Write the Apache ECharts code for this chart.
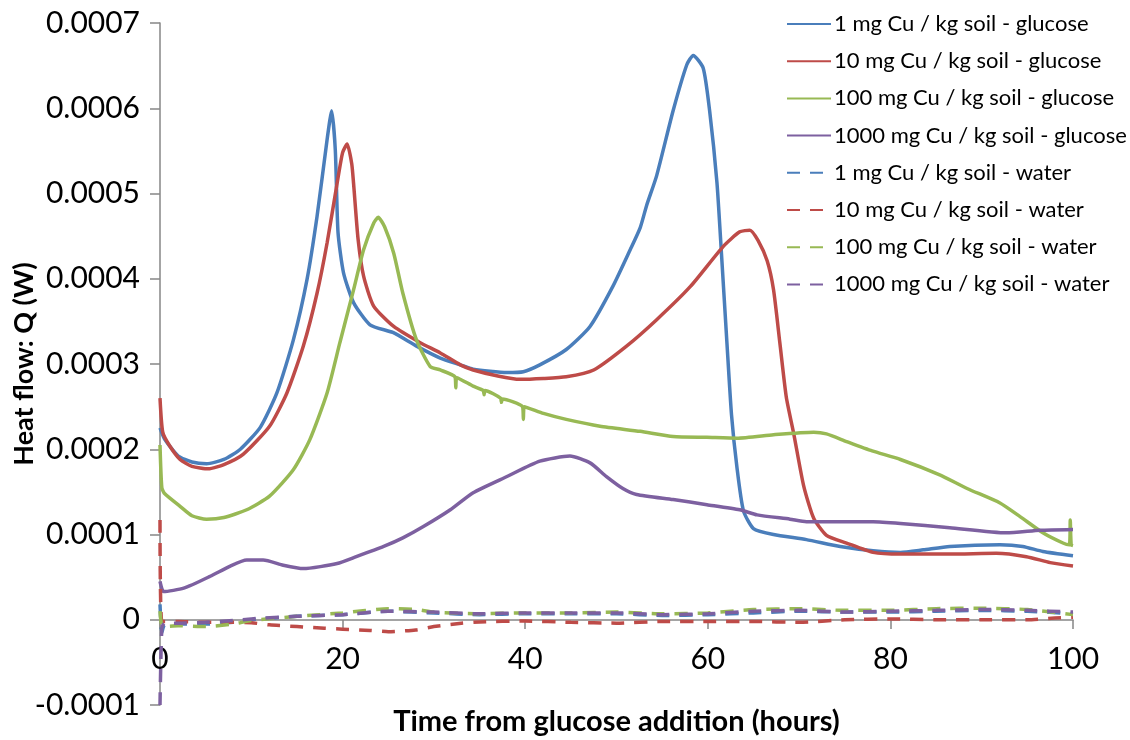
<!DOCTYPE html>
<html>
<head>
<meta charset="utf-8">
<script src="https://cdn.jsdelivr.net/npm/echarts@6/dist/echarts.min.js"></script>
<style>
html,body{margin:0;padding:0;background:#fff;}
#chart{width:1130px;height:740px;}
</style>
</head>
<body>
<div id="chart"></div>
<script>
const seriesNames = [
  '1 mg Cu / kg soil - glucose',
  '10 mg Cu / kg soil - glucose',
  '100 mg Cu / kg soil - glucose',
  '1000 mg Cu / kg soil - glucose',
  '1 mg Cu / kg soil - water',
  '10 mg Cu / kg soil - water',
  '100 mg Cu / kg soil - water',
  '1000 mg Cu / kg soil - water'
];
const yTickLabels = ['-0.0001','0','0.0001','0.0002','0.0003','0.0004','0.0005','0.0006','0.0007'];
const xTickLabels = ['0','20','40','60','80','100'];

const glucose1 = [[0,2.25e-4],[0.5,2.12e-4],[2,1.92e-4],[3.5,1.85e-4],[5.1,1.83e-4],[7,1.88e-4],[8.8,2.0e-4],[11,2.26e-4],[12.8,2.66e-4],[14.6,3.28e-4],[16.1,3.99e-4],[17.2,4.73e-4],[18.3,5.63e-4],[18.8,5.97e-4],[19.2,5.51e-4],[19.5,4.54e-4],[20.1,4.07e-4],[21.2,3.72e-4],[23.0,3.46e-4],[25.5,3.37e-4],[28.1,3.21e-4],[30.7,3.07e-4],[32.9,2.99e-4],[34.3,2.94e-4],[38.0,2.90e-4],[39.8,2.91e-4],[41.6,2.99e-4],[44.5,3.17e-4],[47.1,3.44e-4],[49.6,3.91e-4],[51.5,4.34e-4],[52.6,4.60e-4],[53.3,4.86e-4],[54.4,5.21e-4],[56.2,5.97e-4],[57.7,6.51e-4],[58.4,6.62e-4],[59.5,6.47e-4],[60.2,5.97e-4],[61.0,5.13e-4],[61.5,4.29e-4],[62.1,3.24e-4],[62.6,2.40e-4],[63.2,1.78e-4],[63.9,1.28e-4],[65.0,1.07e-4],[67.2,1.00e-4],[70.8,9.4e-5],[74.5,8.6e-5],[78.1,8.1e-5],[81.1,7.9e-5],[83.6,8.2e-5],[86.5,8.6e-5],[92.0,8.8e-5],[94.5,8.6e-5],[96.7,8.0e-5],[100,7.5e-5]];
const glucose10 = [[0,2.6e-4],[0.3,2.2e-4],[1,2.05e-4],[2.2,1.88e-4],[3.5,1.8e-4],[5.3,1.77e-4],[7,1.82e-4],[9.1,1.94e-4],[12.0,2.27e-4],[13.9,2.66e-4],[15.7,3.21e-4],[17.2,3.83e-4],[18.3,4.42e-4],[19.4,5.12e-4],[20.0,5.48e-4],[20.5,5.58e-4],[21.0,5.35e-4],[21.2,5.12e-4],[21.7,4.46e-4],[22.3,4.03e-4],[23.4,3.68e-4],[25.6,3.44e-4],[28.5,3.25e-4],[30.7,3.13e-4],[32.9,2.99e-4],[34.3,2.93e-4],[37,2.86e-4],[39.4,2.82e-4],[42,2.83e-4],[44.5,2.85e-4],[47.5,2.93e-4],[51.1,3.21e-4],[54.4,3.52e-4],[58.1,3.91e-4],[61.7,4.38e-4],[63.5,4.55e-4],[64.6,4.57e-4],[65.5,4.45e-4],[66.5,4.21e-4],[67.2,3.87e-4],[67.9,3.24e-4],[68.6,2.61e-4],[69.4,2.19e-4],[70.5,1.57e-4],[71.6,1.19e-4],[73.0,9.9e-5],[75.2,9.0e-5],[78.1,7.9e-5],[81.1,7.7e-5],[86.5,7.7e-5],[91.6,7.8e-5],[94.9,7.4e-5],[97.5,6.7e-5],[100,6.3e-5]];
const glucose100 = [[0,2.05e-4],[0.2,1.55e-4],[0.5,1.48e-4],[2.2,1.33e-4],[3.5,1.22e-4],[5.1,1.18e-4],[7,1.2e-4],[9.5,1.29e-4],[12.0,1.45e-4],[14.6,1.76e-4],[16.4,2.11e-4],[18.3,2.66e-4],[19.7,3.25e-4],[21.2,3.87e-4],[22.3,4.34e-4],[23.4,4.65e-4],[23.9,4.72e-4],[24.6,4.61e-4],[25.6,4.30e-4],[26.6,3.83e-4],[28.1,3.28e-4],[29.6,2.97e-4],[30.7,2.93e-4],[32.3,2.85e-4],[32.4,2.72e-4],[32.5,2.84e-4],[34.3,2.74e-4],[35.4,2.69e-4],[35.5,2.64e-4],[35.6,2.69e-4],[37.3,2.60e-4],[37.4,2.55e-4],[37.5,2.59e-4],[39.7,2.50e-4],[39.8,2.35e-4],[39.9,2.50e-4],[42,2.42e-4],[44.5,2.35e-4],[48.2,2.27e-4],[52.6,2.21e-4],[56.2,2.15e-4],[59.9,2.14e-4],[63.2,2.13e-4],[67.2,2.17e-4],[71.6,2.20e-4],[73,2.18e-4],[75.2,2.09e-4],[78,1.98e-4],[81.1,1.88e-4],[85.4,1.70e-4],[88.4,1.54e-4],[92.0,1.37e-4],[94.2,1.21e-4],[96.7,1.02e-4],[98.9,9.0e-5],[99.6,8.8e-5],[99.7,1.17e-4],[99.8,8.8e-5],[100,8.7e-5]];
const glucose1000 = [[0,4.5e-5],[0.4,3.3e-5],[2.6,3.7e-5],[5.5,5.1e-5],[7.7,6.3e-5],[9.5,7.0e-5],[11.3,7.0e-5],[13.5,6.4e-5],[15.7,6.0e-5],[19.4,6.6e-5],[21.5,7.4e-5],[24.5,8.6e-5],[26.6,9.6e-5],[28.8,1.09e-4],[31.8,1.29e-4],[34.3,1.49e-4],[38.0,1.68e-4],[41.6,1.86e-4],[44.9,1.92e-4],[47.1,1.84e-4],[48.9,1.68e-4],[50.7,1.54e-4],[52.2,1.47e-4],[56.2,1.41e-4],[59.9,1.35e-4],[63.5,1.29e-4],[65.4,1.23e-4],[69.0,1.18e-4],[70.8,1.15e-4],[78.1,1.15e-4],[81.1,1.13e-4],[86.5,1.08e-4],[92.7,1.02e-4],[96.4,1.05e-4],[100,1.06e-4]];
const water1 = [[0,1.8e-5],[0.2,-1.5e-5],[0.5,-6e-6],[2,-5e-6],[5,-5e-6],[8,-3e-6],[10,0],[15,4e-6],[20,6e-6],[25,1.0e-5],[30,8e-6],[35,6e-6],[40,7e-6],[45,7e-6],[50,7e-6],[55,5e-6],[60,6e-6],[65,8e-6],[70,1.0e-5],[75,9e-6],[80,9e-6],[85,1.0e-5],[90,1.1e-5],[95,1.0e-5],[100,7e-6]];
const water10 = [[0,1.17e-4],[0.2,-2e-6],[2,-2e-6],[5,-3e-6],[8,-3e-6],[10,-3.5e-6],[12,-6e-6],[15,-8e-6],[18,-1.0e-5],[20,-1.1e-5],[23,-1.25e-5],[25,-1.4e-5],[28,-1.2e-5],[30,-8e-6],[33,-4e-6],[35,-2.5e-6],[40,-1.5e-6],[45,-3e-6],[50,-4e-6],[55,-2e-6],[60,-2e-6],[65,-2e-6],[70,-3e-6],[75,0],[80,1e-6],[85,0],[90,0],[95,0],[98,2e-6],[100,3e-6]];
const water100 = [[0,1.0e-5],[0.3,-8e-6],[2,-7e-6],[5,-8e-6],[8,-5e-6],[10,-1e-6],[15,4e-6],[20,8e-6],[25,1.3e-5],[28,1.2e-5],[30,9e-6],[35,7e-6],[40,8e-6],[45,8e-6],[50,9e-6],[55,7e-6],[60,8e-6],[65,1.2e-5],[70,1.3e-5],[75,1.1e-5],[80,1.1e-5],[85,1.3e-5],[90,1.35e-5],[95,1.2e-5],[100,6e-6]];
const water1000 = [[0,-1.0e-4],[0.2,-1e-5],[0.5,-4e-6],[2,-4e-6],[5,-3e-6],[8,-1e-6],[10,1e-6],[15,4e-6],[20,6e-6],[25,1.0e-5],[30,9e-6],[35,7e-6],[40,8e-6],[45,8e-6],[50,8e-6],[55,6e-6],[60,7e-6],[65,1.0e-5],[70,1.1e-5],[75,9e-6],[80,1.0e-5],[85,1.1e-5],[90,1.2e-5],[95,1.1e-5],[100,9e-6]];

const colors = ['#4A7EBB','#BE4B48','#98B954','#7D60A0'];
const allData = [glucose1, glucose10, glucose100, glucose1000, water1, water10, water100, water1000];
const FONT = 'Lato';
const AXIS_COLOR = '#868686';

const series = allData.map((d, i) => ({
  name: seriesNames[i],
  type: 'line',
  xAxisIndex: 0,
  yAxisIndex: 0,
  data: d,
  showSymbol: false,
  symbol: 'none',
  smooth: 0.2,
  lineStyle: {
    color: colors[i % 4],
    width: 3.5,
    type: i < 4 ? 'solid' : [13, 10]
  },
  itemStyle: { color: colors[i % 4] }
}));

const chart = echarts.init(document.getElementById('chart'));
chart.setOption({
  animation: false,
  backgroundColor: '#fff',
  textStyle: { fontFamily: FONT },
  grid: [
    { left: 160, right: 57, top: 23, bottom: 35, containLabel: false,
      outerBounds: { left: -1000, right: -1000, top: -1000, bottom: -1000 } },
    { left: 160, right: 57, top: 23, bottom: 120, containLabel: false,
      outerBounds: { left: -1000, right: -1000, top: -1000, bottom: -1000 } }
  ],
  legend: {
    data: seriesNames,
    orient: 'vertical',
    left: 781,
    top: 8,
    itemWidth: 44,
    itemHeight: 14,
    itemGap: 15.2,
    itemStyle: { opacity: 0 },
    textStyle: { fontFamily: FONT, fontSize: 22, lineHeight: 22, color: '#000', padding: [0, 0, 0, -2] }
  },
  xAxis: [
    {
      gridIndex: 0, type: 'value', min: 0, max: 100, interval: 20,
      axisLine: { show: false }, axisTick: { show: false }, axisLabel: { show: false },
      splitLine: { show: false }
    },
    {
      gridIndex: 1, type: 'value', min: 0, max: 100, interval: 20, position: 'bottom',
      axisLine: { onZero: false, lineStyle: { color: AXIS_COLOR, width: 1.5 } },
      axisTick: { show: true, length: 9, lineStyle: { color: AXIS_COLOR, width: 1.5 } },
      splitLine: { show: false },
      axisLabel: {
        margin: 24, fontSize: 30, color: '#000', fontFamily: FONT,
        formatter: v => xTickLabels[Math.round(v / 20)]
      },
      name: 'Time from glucose addition (hours)',
      nameLocation: 'middle',
      nameGap: 87,
      nameMoveOverlap: false,
      nameTextStyle: { fontSize: 29, fontWeight: 'bold', color: '#000', fontFamily: FONT }
    }
  ],
  yAxis: [
    {
      gridIndex: 0, type: 'value',
      min: -0.0001, max: 0.0007, interval: 0.0001,
      axisLine: { show: true, onZero: false, lineStyle: { color: AXIS_COLOR, width: 1.5 } },
      axisTick: { show: true, length: 10, lineStyle: { color: AXIS_COLOR, width: 1.5 } },
      splitLine: { show: false },
      axisLabel: {
        margin: 20, fontSize: 30, color: '#000', fontFamily: FONT,
        formatter: v => yTickLabels[Math.round(v / 0.0001) + 1]
      },
      name: 'Heat flow: Q (W)',
      nameLocation: 'middle',
      nameGap: 122,
      nameMoveOverlap: false,
      nameTextStyle: { fontSize: 27, fontWeight: 'bold', color: '#000', fontFamily: FONT }
    },
    {
      gridIndex: 1, type: 'value', min: 0, max: 1, show: false
    }
  ],
  series: series
});
</script>
</body>
</html>
